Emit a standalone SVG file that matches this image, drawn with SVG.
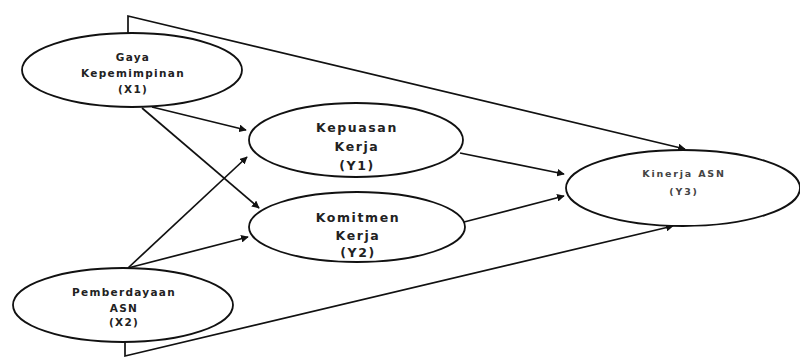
<svg xmlns="http://www.w3.org/2000/svg" width="800" height="358" viewBox="0 0 800 358">
<style>
.n{fill:#fff;stroke:#111;stroke-width:1.8}
.t{font-family:"DejaVu Sans",sans-serif;font-weight:bold;font-size:10.5px;fill:#222;text-anchor:middle;letter-spacing:1.3px}
.b{font-size:12.5px;letter-spacing:1.6px}
.s{font-size:9.5px;letter-spacing:1.8px;fill:#444}
.c{fill:none;stroke:#111;stroke-width:1.7}
</style>
<defs>
<marker id="a" viewBox="0 0 10 10" refX="9" refY="5" markerWidth="4.5" markerHeight="4.5" orient="auto"><path d="M0,0L10,5L0,10z" fill="#111"/></marker>
</defs>
<rect width="800" height="358" fill="#fff"/>
<g id="connectors">
<path class="c" d="M128,34V16L685,149" marker-end="url(#a)"/>
<path class="c" d="M152,107L246,130" marker-end="url(#a)"/>
<path class="c" d="M142,108L259,208" marker-end="url(#a)"/>
<path class="c" d="M128,268L247,157" marker-end="url(#a)"/>
<path class="c" d="M128,268L248,237" marker-end="url(#a)"/>
<path class="c" d="M125,342V356L673,226" marker-end="url(#a)"/>
<path class="c" d="M460,153L564,174" marker-end="url(#a)"/>
<path class="c" d="M464,222L564,196" marker-end="url(#a)"/>
</g>
<g id="X1"><ellipse class="n" cx="132" cy="70" rx="110" ry="37"/>
<text class="t" x="133" y="61">Gaya</text><text class="t" x="133" y="77">Kepemimpinan</text><text class="t" x="133" y="93">(X1)</text></g>
<g id="Y1"><ellipse class="n" cx="356" cy="140" rx="107" ry="37"/>
<text class="t b" x="357" y="132">Kepuasan</text><text class="t b" x="357" y="151">Kerja</text><text class="t b" x="357" y="170">(Y1)</text></g>
<g id="Y2"><ellipse class="n" cx="357" cy="227" rx="108" ry="35"/>
<text class="t b" x="358" y="222">Komitmen</text><text class="t b" x="358" y="240">Kerja</text><text class="t b" x="358" y="257">(Y2)</text></g>
<g id="Y3"><ellipse class="n" cx="683" cy="188" rx="117" ry="38"/>
<text class="t s" x="684" y="177">Kinerja ASN</text><text class="t s" x="684" y="195">(Y3)</text></g>
<g id="X2"><ellipse class="n" cx="123" cy="305" rx="110" ry="37"/>
<text class="t" x="124" y="296">Pemberdayaan</text><text class="t" x="124" y="312">ASN</text><text class="t" x="124" y="326">(X2)</text></g>
</svg>
